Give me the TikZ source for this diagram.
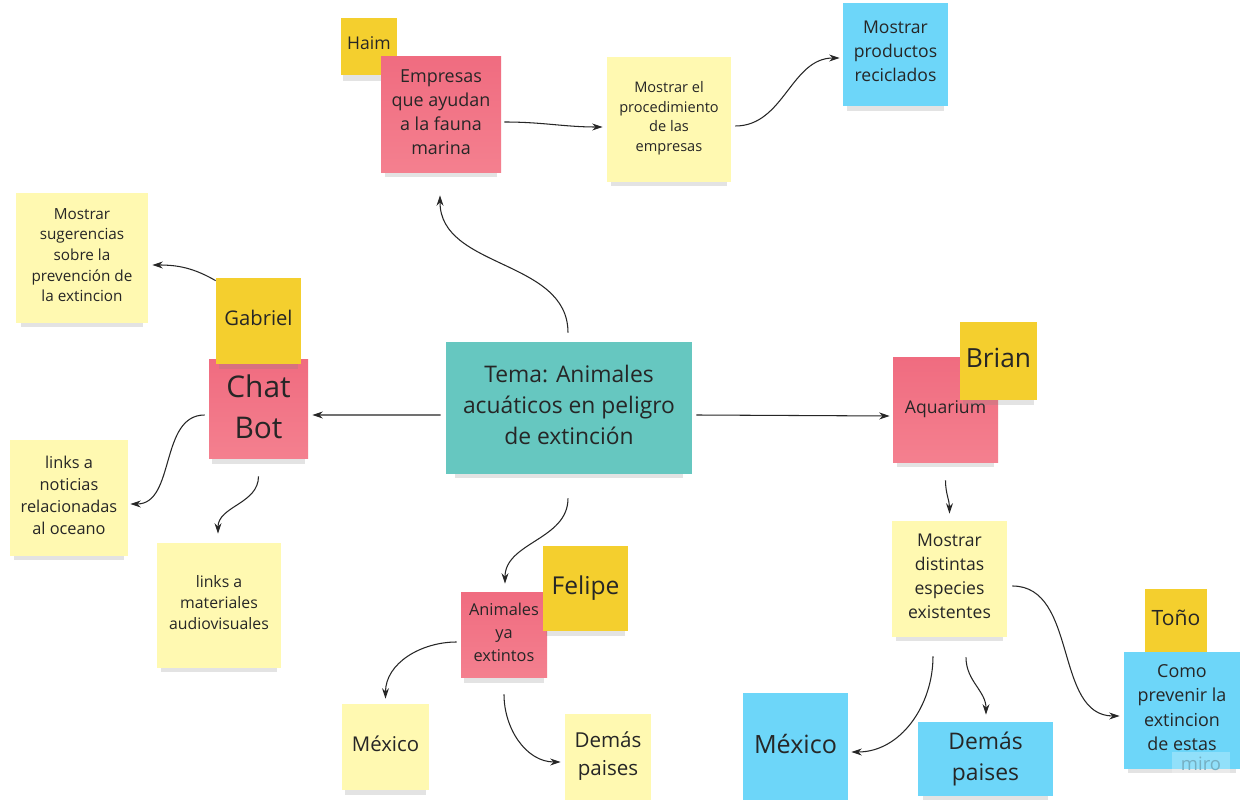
\documentclass[tikz,border=0pt]{standalone}
\usepackage{fontspec}
\setmainfont{Open Sans}
\usetikzlibrary{arrows.meta,shadows,calc}
\definecolor{ink}{HTML}{262626}
\definecolor{notepink}{HTML}{F06C80}
\definecolor{notepinklow}{HTML}{F4808F}
\definecolor{nameyellow}{HTML}{F4CF2E}
\definecolor{paleyellow}{HTML}{FFF9B1}
\definecolor{noteblue}{HTML}{6DD6F9}
\definecolor{noteteal}{HTML}{66C7C0}
\newcommand{\fsz}[2]{\fontsize{#1}{#2}\selectfont}
\tikzset{
  dims/.style 2 args={minimum width=#1*0.02cm, minimum height=#2*0.02cm},
  sticky/.style={inner sep=0pt, align=center, text=ink,
    execute at end node={\rule[-3.4pt]{0pt}{3.4pt}},
    drop shadow={shadow xshift=0pt, shadow yshift=-5pt, shadow scale=0.93, opacity=.22}},
  pinknote/.style={sticky, top color=notepink, bottom color=notepinklow},
  yelnote/.style={sticky, fill=nameyellow},
  palenote/.style={sticky, fill=paleyellow},
  bluenote/.style={sticky, fill=noteblue},
  tealnote/.style={sticky, fill=noteteal},
  link/.style={line width=0.6pt, draw=ink, -{Stealth[length=6pt,width=4pt]}}
}
\begin{document}
\begin{tikzpicture}[x=0.02cm,y=-0.02cm]
  \useasboundingbox[fill=white] (0,0) rectangle (1249,800);
  % centre
  \node[tealnote, dims={246}{132}, font=\fsz{13}{17.6}] (tema) at (569,408) {Tema: Animales\\acuáticos en peligro\\de extinción};
  % top branch
  \node[yelnote, dims={56}{57}, font=\fsz{10}{13.6}] (haim) at (369,46.5) {Haim};
  \node[pinknote, dims={120}{116}, font=\fsz{10.2}{13.8}] (emp) at (441,115) {Empresas\\que ayudan\\a la fauna\\marina};
  \node[palenote, dims={124}{125}, font=\fsz{8.3}{11.3}] (proc) at (669,119.5) {Mostrar el\\procedimiento\\de las\\empresas};
  \node[bluenote, dims={105}{103}, font=\fsz{10}{13.6}] (prod) at (895.5,54.5) {Mostrar\\productos\\reciclados};
  % left branch
  \node[palenote, dims={132}{130}, font=\fsz{8.7}{11.8}] (sug) at (82,258) {Mostrar\\sugerencias\\sobre la\\prevención de\\la extincion};
  \node[pinknote, dims={99}{99}, font=\fsz{17}{23.2}] (chat) at (258.5,409.5) {Chat\\Bot};
  \node[yelnote, dims={85}{86}, font=\fsz{11.5}{15.6}] (gab) at (258.5,321) {Gabriel};
  \node[palenote, dims={118}{116}, font=\fsz{9.3}{12.6}] (noti) at (69,498) {links a\\noticias\\relacionadas\\al oceano};
  \node[palenote, dims={124}{125}, font=\fsz{9}{12.2}] (mat) at (219,605.5) {links a\\materiales\\audiovisuales};
  % bottom branch
  \node[pinknote, dims={86}{85}, font=\fsz{9.3}{13}] (anim) at (504,635.5) {Animales\\ya\\extintos};
  \node[yelnote, dims={85}{85}, font=\fsz{14}{19}] (felipe) at (585.5,588.5) {Felipe};
  \node[palenote, dims={87}{86}, font=\fsz{11.6}{15.8}] (mexL) at (385.5,747) {México};
  \node[palenote, dims={86}{86}, font=\fsz{11.7}{15.9}] (demL) at (608,757) {Demás\\paises};
  % right branch
  \node[pinknote, dims={105}{105}, font=\fsz{10}{13.6}] (aqua) at (945.5,410.5) {Aquarium};
  \node[yelnote, dims={77}{78}, font=\fsz{15}{20}] (brian) at (998.5,361) {Brian};
  \node[palenote, dims={115}{116}, font=\fsz{10}{13.6}] (esp) at (949.5,579) {Mostrar\\distintas\\especies\\existentes};
  \node[bluenote, dims={105}{107}, font=\fsz{14.3}{19.4}] (mexR) at (795.5,746.5) {México};
  \node[bluenote, dims={135}{74}, font=\fsz{13}{17.6}] (demR) at (985.5,759) {Demás\\paises};
  \node[yelnote, dims={62}{63}, font=\fsz{12}{16.3}] (tono) at (1176,620.5) {Toño};
  \node[bluenote, dims={116}{117}, font=\fsz{10.2}{13.8}] (como) at (1182,710.5) {Como\\prevenir la\\extincion\\de estas};
  \node[fill=white, fill opacity=.25, text opacity=1, text=noteblue!55!gray, dims={58}{24}, inner sep=0pt, font=\fsz{10.5}{13}] (miro) at (1201,764) {miro};
  % connectors
  \draw[link] ($(tema.north)+(-1,-9)$) to[out=90,in=-90] ($(emp.south)+(-1,22)$);
  \draw[link] ($(emp.east)+(3,7)$) to[out=0,in=180] ($(proc.west)+(-4,7.5)$);
  \draw[link] ($(proc.east)+(4,6.5)$) to[out=0,in=180] ($(prod.west)+(-3,3.5)$);
  \draw[link] ($(tema.west)+(-5,7)$) -- ($(chat.east)+(4,5.5)$);
  \draw[link] ($(tema.east)+(4,7)$) -- ($(aqua.west)+(-3,5.5)$);
  \draw[link] ($(gab.north west)+(0,3)$) to[out=150,in=0] ($(sug.east)+(4,7)$);
  \draw[link] ($(chat.west)+(-4,5.5)$) to[out=180,in=0] ($(noti.east)+(2,6)$);
  \draw[link] ($(chat.south)+(0,17)$) to[out=-90,in=90] ($(mat.north)+(-1,-9)$);
  \draw[link] ($(tema.south)+(-1,24)$) to[out=-90,in=90] ($(anim.north)+(1,-9)$);
  \draw[link] ($(aqua.south)+(0,17)$) to[out=-90,in=90] ($(esp.north)+(0,-7)$);
  \draw[link] ($(anim.west)+(-4,6.5)$) to[out=180,in=90] ($(mexL.north)+(0,-5)$);
  \draw[link] ($(anim.south)+(0,16)$) to[out=-90,in=180] ($(demL.west)+(-4,5)$);
  \draw[link] ($(esp.south)+(-16.5,19)$) to[out=-90,in=0] ($(mexR.east)+(3,5.5)$);
  \draw[link] ($(esp.south)+(16.5,20)$) to[out=-90,in=90] ($(demR.north)+(0.5,-7)$);
  \draw[link] ($(esp.east)+(5,7)$) to[out=0,in=180] ($(como.west)+(-4,5.5)$);
\end{tikzpicture}
\end{document}
